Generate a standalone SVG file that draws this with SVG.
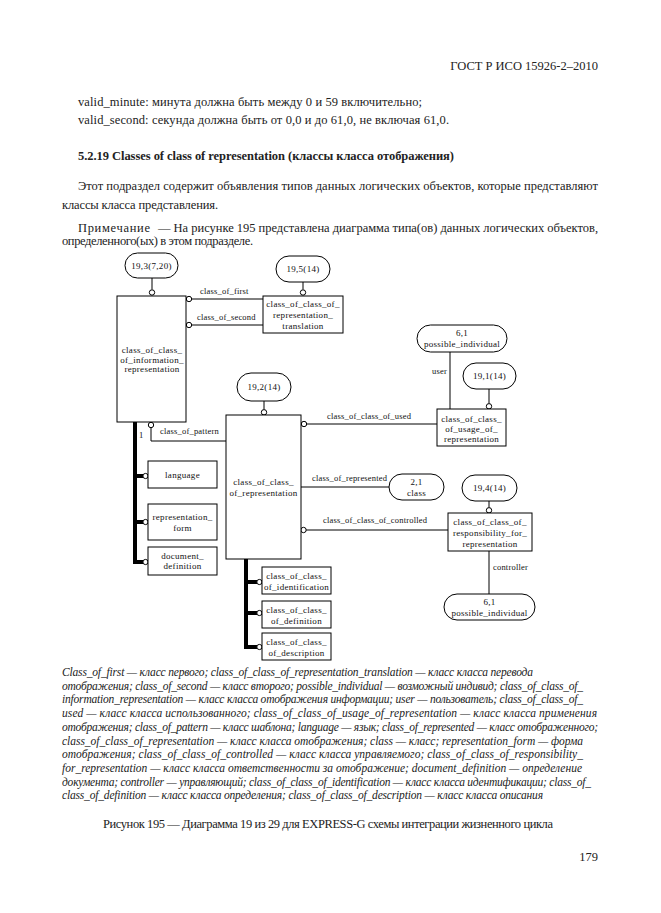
<svg xmlns="http://www.w3.org/2000/svg" width="661" height="913" viewBox="0 0 661 913">
<style>
.bg{fill:#fff}
.box{fill:#fff;stroke:#000;stroke-width:1}
.ov{fill:#fff;stroke:#000;stroke-width:1}
.ln{fill:none;stroke:#000;stroke-width:1}
.th{fill:none;stroke:#000;stroke-width:4}
.ci{fill:#fff;stroke:#000;stroke-width:1}
.t{font-family:"Liberation Serif","DejaVu Serif",serif;font-size:9px;letter-spacing:0.3px;fill:#111;text-anchor:middle}
.lb{font-family:"Liberation Serif","DejaVu Serif",serif;font-size:8.5px;letter-spacing:0.2px;fill:#111}
.p{font-family:"Liberation Serif","DejaVu Serif",serif;font-size:12.5px;fill:#222}
.it{font-family:"Liberation Serif","DejaVu Serif",serif;font-size:11.5px;font-style:italic;fill:#222}
</style>
<rect class="bg" x="0" y="0" width="661" height="913"/>

<g id="page-text">
<text class="p" x="598" y="70" text-anchor="end">ГОСТ Р ИСО 15926-2–2010</text>
<text class="p" x="78" y="106" textLength="344" lengthAdjust="spacing">valid_minute: минута должна быть между 0 и 59 включительно;</text>
<text class="p" x="78" y="124" textLength="371" lengthAdjust="spacing">valid_second: секунда должна быть от 0,0 и до 61,0, не включая 61,0.</text>
<text class="p" x="78" y="160" font-weight="bold" font-size="12" textLength="376" lengthAdjust="spacing">5.2.19 Classes of class of representation (классы класса отображения)</text>
<text class="p" x="78" y="190" textLength="520" lengthAdjust="spacing">Этот подраздел содержит объявления типов данных логических объектов, которые представляют</text>
<text class="p" x="62" y="209" textLength="156" lengthAdjust="spacing">классы класса представления.</text>
<text class="p" x="78" y="232" textLength="72" lengthAdjust="spacing">Примечание</text>
<text class="p" x="158" y="232" textLength="440" lengthAdjust="spacing">— На рисунке 195 представлена диаграмма типа(ов) данных логических объектов,</text>
<text class="p" x="62" y="245" textLength="191" lengthAdjust="spacing">определенного(ых) в этом подразделе.</text>
</g>

<g id="connectors">
<line class="ln" x1="152" y1="278" x2="152" y2="289.5"/>
<circle class="ci" cx="152" cy="292.5" r="2.7"/>
<line class="ln" x1="303" y1="282" x2="303" y2="289.5"/>
<circle class="ci" cx="303" cy="292.5" r="2.7"/>
<line class="ln" x1="191.5" y1="299" x2="263" y2="299"/>
<circle class="ci" cx="189" cy="299" r="2.7"/>
<line class="ln" x1="191.5" y1="325" x2="263" y2="325"/>
<circle class="ci" cx="189" cy="325" r="2.7"/>
<line class="ln" x1="264" y1="401" x2="264" y2="409.5"/>
<circle class="ci" cx="264" cy="412.3" r="2.7"/>
<line class="ln" x1="306.5" y1="424" x2="437" y2="424"/>
<circle class="ci" cx="304" cy="424" r="2.7"/>
<line class="ln" x1="450" y1="352" x2="450" y2="409"/>
<line class="ln" x1="489" y1="389" x2="489" y2="403.5"/>
<circle class="ci" cx="489" cy="406.3" r="2.7"/>
<polyline class="ln" points="151,427.5 151,441 226,441"/>
<circle class="ci" cx="151" cy="425" r="2.7"/>
<polyline class="th" points="135,422 135,562 143,562"/>
<line class="th" x1="135" y1="476" x2="143" y2="476"/>
<line class="th" x1="135" y1="522" x2="143" y2="522"/>
<circle class="ci" cx="145.5" cy="476" r="2.6"/>
<circle class="ci" cx="145.5" cy="522" r="2.6"/>
<circle class="ci" cx="145.5" cy="562" r="2.6"/>
<line class="ln" x1="301" y1="487" x2="389" y2="487"/>
<line class="ln" x1="306" y1="530" x2="448" y2="530"/>
<circle class="ci" cx="303.5" cy="530" r="2.7"/>
<line class="ln" x1="489" y1="501" x2="489" y2="507.5"/>
<circle class="ci" cx="489" cy="510.3" r="2.7"/>
<line class="ln" x1="489" y1="551" x2="489" y2="594"/>
<polyline class="th" points="246,559 246,647 257,647"/>
<line class="th" x1="246" y1="582" x2="257" y2="582"/>
<line class="th" x1="246" y1="613" x2="257" y2="613"/>
<circle class="ci" cx="259.4" cy="582" r="2.6"/>
<circle class="ci" cx="259.4" cy="613" r="2.6"/>
<circle class="ci" cx="259.4" cy="647" r="2.6"/>
<text class="lb" x="200" y="294">class_of_first</text>
<text class="lb" x="197" y="320">class_of_second</text>
<text class="lb" x="327" y="419">class_of_class_of_used</text>
<text class="lb" x="432" y="374">user</text>
<text class="lb" x="160" y="434">class_of_pattern</text>
<text class="lb" x="139" y="438" font-size="7">1</text>
<text class="lb" x="312" y="481">class_of_represented</text>
<text class="lb" x="323" y="523">class_of_class_of_controlled</text>
<text class="lb" x="493" y="570">controller</text>
</g>

<g id="n-19-3"><rect class="ov" x="125" y="253" width="53" height="25" rx="12.5"/><text class="t" x="151.5" y="268.5">19,3(7,20)</text></g>
<g id="n-19-5"><rect class="ov" x="276" y="256" width="54" height="26" rx="13"/><text class="t" x="303" y="272">19,5(14)</text></g>
<g id="n-info"><rect class="box" x="117" y="296" width="69" height="126"/>
<text class="t" x="152" y="353">class_of_class_</text><text class="t" x="152" y="362.5">of_information_</text><text class="t" x="152" y="372">representation</text></g>
<g id="n-translation"><rect class="box" x="263" y="296" width="80" height="37"/>
<text class="t" x="303" y="307">class_of_class_of_</text><text class="t" x="303" y="318">representation_</text><text class="t" x="303" y="329">translation</text></g>
<g id="n-19-2"><rect class="ov" x="237" y="373" width="54" height="28" rx="14"/><text class="t" x="264" y="390">19,2(14)</text></g>
<g id="n-main"><rect class="box" x="226" y="415" width="75" height="144"/>
<text class="t" x="263.5" y="485">class_of_class_</text><text class="t" x="263.5" y="496">of_representation</text></g>
<g id="n-pi-top"><rect class="ov" x="417" y="325" width="90" height="27" rx="13.5"/>
<text class="t" x="462" y="336">6,1</text><text class="t" x="462" y="346.5">possible_individual</text></g>
<g id="n-19-1"><rect class="ov" x="463" y="363" width="53" height="26" rx="13"/><text class="t" x="489.5" y="379">19,1(14)</text></g>
<g id="n-usage"><rect class="box" x="437" y="409" width="69" height="37"/>
<text class="t" x="471.5" y="421.5">class_of_class_</text><text class="t" x="471.5" y="431.5">of_usage_of_</text><text class="t" x="471.5" y="442">representation</text></g>
<g id="n-language"><rect class="box" x="148" y="461" width="69" height="27"/><text class="t" x="182.5" y="478">language</text></g>
<g id="n-repform"><rect class="box" x="148" y="504" width="69" height="36"/>
<text class="t" x="182.5" y="519.5">representation_</text><text class="t" x="182.5" y="530.5">form</text></g>
<g id="n-docdef"><rect class="box" x="148" y="547" width="69" height="28"/>
<text class="t" x="182.5" y="558.5">document_</text><text class="t" x="182.5" y="569">definition</text></g>
<g id="n-class"><rect class="ov" x="389" y="474" width="55" height="26" rx="13"/>
<text class="t" x="416.5" y="485">2,1</text><text class="t" x="416.5" y="496">class</text></g>
<g id="n-19-4"><rect class="ov" x="462" y="475" width="55" height="26" rx="13"/><text class="t" x="489.5" y="491">19,4(14)</text></g>
<g id="n-resp"><rect class="box" x="448" y="513" width="84" height="38"/>
<text class="t" x="490" y="525">class_of_class_of_</text><text class="t" x="490" y="536">responsibility_for_</text><text class="t" x="490" y="547">representation</text></g>
<g id="n-pi-bottom"><rect class="ov" x="444" y="594" width="91" height="26" rx="13"/>
<text class="t" x="489.5" y="605">6,1</text><text class="t" x="489.5" y="616">possible_individual</text></g>
<g id="n-ident"><rect class="box" x="262" y="567" width="69" height="27"/>
<text class="t" x="296.5" y="579">class_of_class_</text><text class="t" x="296.5" y="589.5">of_identification</text></g>
<g id="n-def"><rect class="box" x="262" y="601" width="69" height="27"/>
<text class="t" x="296.5" y="613">class_of_class_</text><text class="t" x="296.5" y="623.5">of_definition</text></g>
<g id="n-desc"><rect class="box" x="262" y="633" width="69" height="27"/>
<text class="t" x="296.5" y="645">class_of_class_</text><text class="t" x="296.5" y="655.5">of_description</text></g>

<g id="legend">
<text class="it" x="62" y="676" textLength="471" lengthAdjust="spacing">Class_of_first — класс первого; class_of_class_of_representation_translation — класс класса перевода</text>
<text class="it" x="62" y="689.7" textLength="521" lengthAdjust="spacing">отображения; class_of_second — класс второго; possible_individual — возможный индивид; class_of_class_of_</text>
<text class="it" x="62" y="703.4" textLength="521" lengthAdjust="spacing">information_representation — класс класса отображения информации; user — пользователь; class_of_class_of_</text>
<text class="it" x="62" y="717.1" textLength="535" lengthAdjust="spacing">used — класс класса использованного; class_of_class_of_usage_of_representation — класс класса применения</text>
<text class="it" x="62" y="730.8" textLength="536" lengthAdjust="spacing">отображения; class_of_pattern — класс шаблона; language — язык; class_of_represented — класс отображенного;</text>
<text class="it" x="62" y="744.5" textLength="521" lengthAdjust="spacing">class_of_class_of_representation — класс класса отображения; class — класс; representation_form — форма</text>
<text class="it" x="62" y="758.2" textLength="521" lengthAdjust="spacing">отображения; class_of_class_of_controlled — класс класса управляемого; class_of_class_of_responsibility_</text>
<text class="it" x="62" y="771.9" textLength="520" lengthAdjust="spacing">for_representation — класс класса ответственности за отображение; document_definition — определение</text>
<text class="it" x="62" y="785.6" textLength="529" lengthAdjust="spacing">документа; controller — управляющий; class_of_class_of_identification — класс класса идентификации; class_of_</text>
<text class="it" x="62" y="799.3" textLength="481" lengthAdjust="spacing">class_of_definition — класс класса определения; class_of_class_of_description — класс класса описания</text>
<text class="p" x="328" y="828" font-size="12" text-anchor="middle" textLength="450" lengthAdjust="spacing">Рисунок 195 — Диаграмма 19 из 29 для EXPRESS-G схемы интеграции жизненного цикла</text>
<text class="p" x="598" y="861" text-anchor="end">179</text>
</g>
</svg>
